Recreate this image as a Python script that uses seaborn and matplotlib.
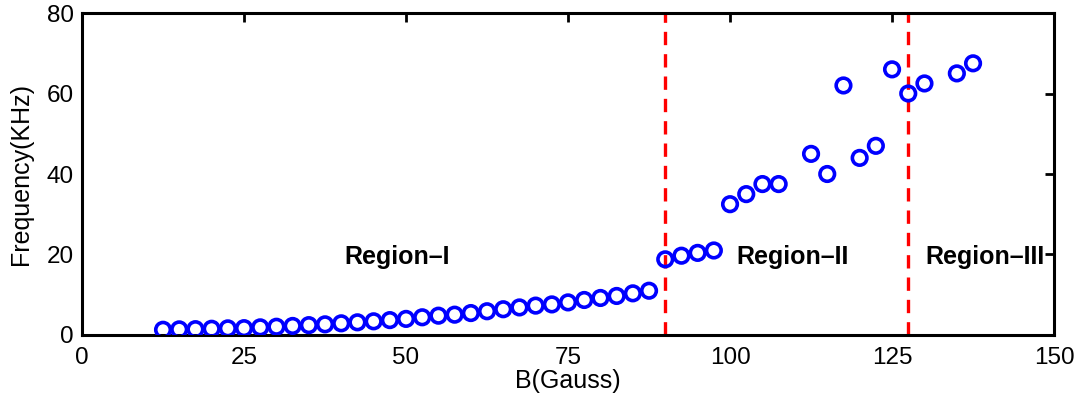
import numpy as np
import pandas as pd
import matplotlib
matplotlib.use("Agg")
import matplotlib.pyplot as plt
import seaborn as sns

# field values (Gauss) and measured frequencies (KHz)
b_field = [12.5, 15, 17.5, 20, 22.5, 25, 27.5, 30, 32.5, 35, 37.5, 40, 42.5, 45, 47.5,
           50, 52.5, 55, 57.5, 60, 62.5, 65, 67.5, 70, 72.5, 75, 77.5, 80, 82.5, 85, 87.5,
           90, 92.5, 95, 97.5,
           100, 102.5, 105, 107.5, 112.5, 115, 117.5, 120, 122.5, 125, 127.5, 130, 135, 137.5]
frequency = [1.3, 1.4, 1.45, 1.55, 1.65, 1.7, 1.9, 2.05, 2.25, 2.45, 2.65, 2.9, 3.15, 3.4, 3.7,
             4.0, 4.4, 4.8, 5.05, 5.45, 5.9, 6.4, 6.85, 7.3, 7.6, 8.1, 8.7, 9.2, 9.7, 10.35, 11.0,
             18.8, 19.7, 20.4, 21.0,
             32.5, 35.0, 37.5, 37.5, 45.0, 40.0, 62.0, 44.0, 47.0, 66.0, 60.0, 62.5, 65.0, 67.5]

boundaries = [90, 127.5]
region_names = ["Region\u2013I", "Region\u2013II", "Region\u2013III"]
region_pos = [(48.6, 19.5), (109.6, 19.5), (139.4, 19.5)]

x_ticks = [0, 25, 50, 75, 100, 125, 150]
y_ticks = [0, 20, 40, 60, 80]

sns.set_style("white")
plt.rcParams['font.family'] = ['Liberation Sans', 'DejaVu Sans']
plt.rcParams['text.color'] = 'black'
plt.rcParams['axes.labelcolor'] = 'black'
plt.rcParams['xtick.color'] = 'black'
plt.rcParams['ytick.color'] = 'black'

df = pd.DataFrame({"B": b_field, "f": frequency})

fig = plt.figure(figsize=(10.88, 4.04), dpi=100)
ax = fig.add_axes([0.0754, 0.1708, 0.8934, 0.797])

sns.scatterplot(data=df, x="B", y="f", marker="o", s=110, facecolors="none",
                edgecolor="#0000ff", linewidth=2.6, ax=ax, zorder=3)

for xb in boundaries:
    ax.axvline(xb, color="#ff0000", linestyle=(0, (4, 2.7)), linewidth=2.4, zorder=2)

for name, (xt, yt) in zip(region_names, region_pos):
    ax.text(xt, yt, name, fontsize=18, fontweight="bold", ha="center", va="center")

ax.set_xlim(0, 150)
ax.set_ylim(0, 80)
ax.set_xticks(x_ticks)
ax.set_yticks(y_ticks)
ax.set_xlabel("B(Gauss)", fontsize=18, labelpad=0)
ax.set_ylabel("Frequency(KHz)", fontsize=18, labelpad=10)
ax.tick_params(direction="in", length=6.5, width=2, labelsize=17.5,
               top=True, right=True)
ax.tick_params(axis="x", pad=9)
ax.tick_params(axis="y", pad=6)
for sp in ax.spines.values():
    sp.set_linewidth(2.2)
    sp.set_color("black")
    sp.set_visible(True)

fig.savefig("out.png", dpi=100, facecolor="white")
